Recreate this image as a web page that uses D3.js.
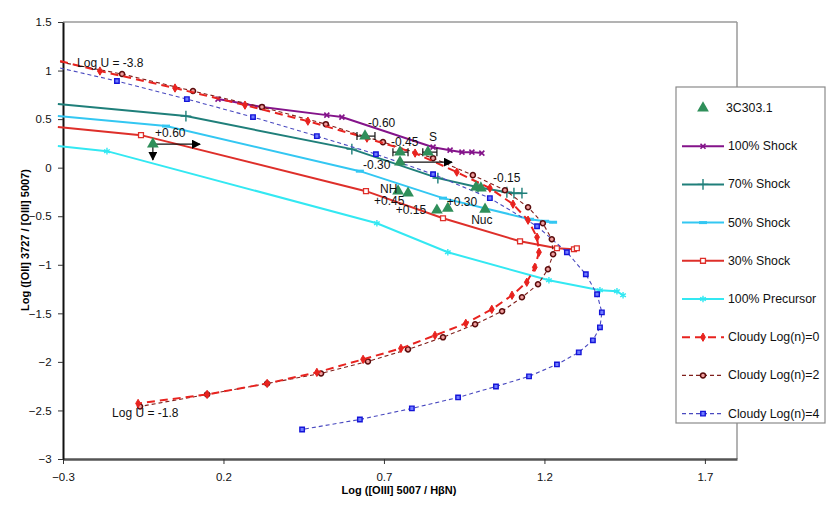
<!DOCTYPE html>
<html>
<head>
<meta charset="utf-8">
<script src="https://cdn.jsdelivr.net/npm/d3@7"></script>
<style>
  body { margin: 0; background: #fff; }
  text { font-family: "Liberation Sans", Arial, sans-serif; }
</style>
</head>
<body>
<div id="chart"></div>
<script>
// axis ticks
const xTicks = [-0.3, 0.2, 0.7, 1.2, 1.7];
const yTicks = [1.5, 1, 0.5, 0, -0.5, -1, -1.5, -2, -2.5, -3];

// 3C303.1 observations
const obsX = [-0.020, 0.641, 0.750, 0.750, 0.837, 0.987, 1.002, 0.744, 0.775, 0.865, 0.899, 1.015];
const obsY = [0.242, 0.325, 0.160, 0.057, 0.160, -0.201, -0.211, -0.242, -0.263, -0.438, -0.418, -0.428];

// horizontal error bars [x0, x1, y]
const errX0 = [0.616, 0.728, 0.821];
const errX1 = [0.672, 0.775, 0.865];
const errY  = [0.325, 0.160, 0.160];

// limit arrows
const arrowX0 = [-0.020, -0.020, 0.756];
const arrowY0 = [0.242, 0.242, 0.057];
const arrowX1 = [-0.020, 0.127, 0.912];
const arrowY1 = [0.080, 0.242, 0.057];

// point labels
const labelText = ["+0.60", "-0.60", "-0.45", "-0.30", "S", "-0.15", "NH", "+0.45", "+0.15", "+0.30", "Nuc", "Log U = -3.8", "Log U = -1.8"];
const labelX = [-0.013, 0.650, 0.722, 0.635, 0.853, 1.040, 0.688, 0.669, 0.737, 0.896, 1.005, -0.256, -0.147];
const labelY = [0.314, 0.418, 0.222, -0.015, 0.273, -0.149, -0.262, -0.386, -0.479, -0.397, -0.582, 1.036, -2.572];
const labelAnchor = ["start", "start", "start", "start", "middle", "start", "start", "start", "start", "start", "middle", "start", "start"];

// model grids
const shock100X = [0.183, 0.320, 0.522, 0.569, 0.853, 0.906, 0.943, 0.974, 1.005];
const shock100Y = [0.706, 0.624, 0.541, 0.521, 0.211, 0.180, 0.160, 0.160, 0.150];

const shock70X = [-0.316, 0.083, 0.600, 0.868, 0.993, 1.083, 1.105, 1.130];
const shock70Y = [0.655, 0.531, 0.191, -0.108, -0.201, -0.253, -0.263, -0.263];

const shock50X = [-0.316, 0.021, 0.625, 0.884, 1.155, 1.202, 1.227];
const shock50Y = [0.531, 0.428, -0.036, -0.314, -0.531, -0.552, -0.562];

const shock30X = [-0.316, -0.057, 0.644, 0.884, 1.124, 1.239, 1.292, 1.301];
const shock30Y = [0.418, 0.335, -0.242, -0.521, -0.758, -0.830, -0.840, -0.830];

const precursorX = [-0.316, -0.163, 0.678, 0.899, 1.214, 1.373, 1.426, 1.445];
const precursorY = [0.222, 0.170, -0.572, -0.871, -1.160, -1.263, -1.273, -1.314];

const cloudy0X = [-0.309, -0.185, 0.049, 0.267, 0.463, 0.647, 0.797, 0.927, 1.030, 1.102, 1.149, 1.177, 1.183,
                  1.170, 1.145, 1.099, 1.036, 0.955, 0.859, 0.753, 0.635, 0.491, 0.336, 0.149, -0.066];
const cloudy0Y = [1.098, 0.995, 0.820, 0.644, 0.479, 0.304, 0.150, -0.046, -0.211, -0.376, -0.541, -0.716, -0.871,
                  -1.026, -1.180, -1.314, -1.459, -1.603, -1.727, -1.861, -1.974, -2.108, -2.222, -2.335, -2.428];

const cloudy2X = [-0.309, -0.116, 0.105, 0.320, 0.519, 0.697, 0.853, 0.977, 1.077, 1.149, 1.195, 1.223, 1.227,
                  1.211, 1.180, 1.130, 1.068, 0.984, 0.884, 0.775, 0.650, 0.504, 0.336, 0.149, -0.060];
const cloudy2Y = [1.088, 0.964, 0.789, 0.624, 0.448, 0.263, 0.098, -0.077, -0.232, -0.407, -0.572, -0.737, -0.892,
                  -1.046, -1.201, -1.335, -1.479, -1.613, -1.747, -1.871, -1.995, -2.119, -2.222, -2.335, -2.459];

const cloudy4X = [-0.309, -0.132, 0.086, 0.292, 0.491, 0.675, 0.853, 1.030, 1.177, 1.270, 1.329, 1.364,
                  1.379, 1.373, 1.351, 1.307, 1.239, 1.152, 1.049, 0.931, 0.787, 0.625, 0.445];
const cloudy4Y = [1.026, 0.892, 0.706, 0.521, 0.325, 0.139, -0.067, -0.314, -0.603, -0.871, -1.098, -1.304,
                  -1.490, -1.644, -1.778, -1.902, -2.026, -2.149, -2.253, -2.366, -2.479, -2.593, -2.696];

const seriesNames = ["100% Shock", "70% Shock", "50% Shock", "30% Shock", "100% Precursor",
                     "Cloudy Log(n)=0", "Cloudy Log(n)=2", "Cloudy Log(n)=4"];

let width = 830, height = 515;
let margin = { top: 22, right: 93, bottom: 56, left: 63 };

let x = d3.scaleLinear().domain([-0.3, 1.8]).range([margin.left, width - margin.right]);
let y = d3.scaleLinear().domain([-3, 1.5]).range([height - margin.bottom, margin.top]);

let svg = d3.select("#chart").append("svg")
    .attr("width", width)
    .attr("height", height);

let defs = svg.append("defs");
defs.append("clipPath").attr("id", "plot-clip")
    .append("rect")
    .attr("x", margin.left - 6).attr("y", margin.top)
    .attr("width", width - margin.right - margin.left + 6)
    .attr("height", height - margin.bottom - margin.top);
defs.append("marker").attr("id", "arrow")
    .attr("viewBox", "0 0 10 10").attr("refX", 9).attr("refY", 5)
    .attr("markerWidth", 9).attr("markerHeight", 9)
    .attr("markerUnits", "userSpaceOnUse")
    .attr("orient", "auto")
    .append("path").attr("d", "M0,0L10,5L0,10Z").attr("fill", "#000");

const symTimes = d3.symbolTimes || d3.symbolX || d3.symbolCross;
const symPlus = d3.symbolPlus || d3.symbolCross;
const symAst = d3.symbolAsterisk || d3.symbolCross;

// style of each model series
const styles = [
    { xs: shock100X, ys: shock100Y, color: "#84138a", width: 2, dash: null, sym: symTimes, size: 18, fill: "none", stroke: "#84138a", sw: 1.6 },
    { xs: shock70X, ys: shock70Y, color: "#1f7f7a", width: 2, dash: null, sym: symPlus, size: 40, fill: "none", stroke: "#1f7f7a", sw: 1.4 },
    { xs: shock50X, ys: shock50Y, color: "#33c7f2", width: 2, dash: null, sym: "dash", size: 0, fill: "none", stroke: "#33c7f2", sw: 2.4 },
    { xs: shock30X, ys: shock30Y, color: "#de2f2a", width: 2, dash: null, sym: d3.symbolSquare, size: 24, fill: "#fff", stroke: "#de2f2a", sw: 1.3 },
    { xs: precursorX, ys: precursorY, color: "#33e8f2", width: 2, dash: null, sym: symAst, size: 30, fill: "none", stroke: "#33e8f2", sw: 1.4 },
    { xs: cloudy0X, ys: cloudy0Y, color: "#e8231f", width: 2, dash: "8,5", sym: d3.symbolDiamond, size: 20, fill: "#e8231f", stroke: "#e8231f", sw: 1 },
    { xs: cloudy2X, ys: cloudy2Y, color: "#80201c", width: 1.1, dash: "4,3", sym: d3.symbolCircle, size: 20, fill: "#f0a0a0", stroke: "#5a0c0c", sw: 1.5 },
    { xs: cloudy4X, ys: cloudy4Y, color: "#4a4ac0", width: 1.1, dash: "4,3", sym: d3.symbolSquare, size: 20, fill: "#6f7cff", stroke: "#1414d8", sw: 1.4 }
];

// plot frame
svg.append("line").attr("x1", margin.left).attr("x2", width - margin.right)
    .attr("y1", margin.top).attr("y2", margin.top).attr("stroke", "#9a9a9a").attr("stroke-width", 1.5);
svg.append("line").attr("x1", width - margin.right).attr("x2", width - margin.right)
    .attr("y1", margin.top).attr("y2", height - margin.bottom).attr("stroke", "#9a9a9a").attr("stroke-width", 1.5);

// axes
let xAxis = svg.append("g")
    .attr("transform", "translate(0," + (height - margin.bottom) + ")")
    .call(d3.axisBottom(x).tickValues(xTicks).tickSize(5).tickSizeOuter(0).tickFormat(d3.format("")));
let yAxis = svg.append("g")
    .attr("transform", "translate(" + margin.left + ",0)")
    .call(d3.axisLeft(y).tickValues(yTicks).tickSize(5).tickSizeOuter(0).tickFormat(d3.format("")));

xAxis.select(".domain").attr("stroke", "#555").attr("stroke-width", 2.5);
yAxis.select(".domain").attr("stroke", "#111").attr("stroke-width", 2);
[xAxis, yAxis].forEach(function (a) {
    a.selectAll(".tick line").attr("stroke", "#333");
    a.selectAll(".tick text").attr("font-size", 11.5).attr("fill", "#111")
        .style("font-family", "'Liberation Sans', Arial, sans-serif");
});
xAxis.selectAll(".tick text").attr("dy", "1.2em");
yAxis.selectAll(".tick text").attr("dx", "-0.3em");

// axis titles
svg.append("text")
    .attr("x", 399).attr("y", 494)
    .attr("text-anchor", "middle").attr("font-size", 11).attr("font-weight", "bold")
    .text("Log ([OIII] 5007 / H\u03B2N)");
svg.append("text")
    .attr("transform", "translate(29," + 240 + ") rotate(-90)")
    .attr("text-anchor", "middle").attr("font-size", 11).attr("font-weight", "bold")
    .text("Log ([OII] 3727 / [OIII] 5007)");

let plot = svg.append("g").attr("clip-path", "url(#plot-clip)");

function drawMarker(g, s, px, py, size) {
    if (s.sym === "dash") {
        g.append("line").attr("x1", px - 4).attr("x2", px + 4).attr("y1", py).attr("y2", py)
            .attr("stroke", s.stroke).attr("stroke-width", 3);
        return;
    }
    g.append("path")
        .attr("d", d3.symbol().type(s.sym).size(size || s.size)())
        .attr("transform", "translate(" + px + "," + py + ")")
        .attr("fill", s.fill).attr("stroke", s.stroke).attr("stroke-width", s.sw);
}

// model lines, drawn so that Cloudy sits on top of shocks as in the reference
let order = [4, 3, 2, 1, 0, 7, 6, 5];
order.forEach(function (i) {
    let s = styles[i];
    let pts = s.xs.map(function (d, k) { return [d, s.ys[k]]; });
    plot.append("path")
        .datum(pts)
        .attr("fill", "none")
        .attr("stroke", s.color)
        .attr("stroke-width", s.width)
        .attr("stroke-dasharray", s.dash)
        .attr("d", d3.line().x(function (d) { return x(d[0]); }).y(function (d) { return y(d[1]); }));
    let mg = plot.append("g");
    pts.forEach(function (d) {
        if (d[0] < -0.3) return;
        drawMarker(mg, s, x(d[0]), y(d[1]));
    });
});

// error bars
let eb = svg.append("g").attr("stroke", "#111").attr("stroke-width", 1.2);
errX0.forEach(function (d, i) {
    eb.append("line").attr("x1", x(d)).attr("x2", x(errX1[i])).attr("y1", y(errY[i])).attr("y2", y(errY[i]));
    [d, errX1[i]].forEach(function (e) {
        eb.append("line").attr("x1", x(e)).attr("x2", x(e)).attr("y1", y(errY[i]) - 4).attr("y2", y(errY[i]) + 4);
    });
});

// limit arrows
arrowX0.forEach(function (d, i) {
    svg.append("line")
        .attr("x1", x(d)).attr("y1", y(arrowY0[i]))
        .attr("x2", x(arrowX1[i])).attr("y2", y(arrowY1[i]))
        .attr("stroke", "#111").attr("stroke-width", 1.2)
        .attr("marker-end", "url(#arrow)");
});

// observed points
svg.append("g").selectAll("path")
    .data(obsX.map(function (d, i) { return [d, obsY[i]]; }))
    .enter().append("path")
    .attr("d", d3.symbol().type(d3.symbolTriangle).size(60)())
    .attr("transform", function (d) { return "translate(" + x(d[0]) + "," + y(d[1]) + ")"; })
    .attr("fill", "#2f8f5a");

// annotations
svg.append("g").selectAll("text")
    .data(labelText)
    .enter().append("text")
    .attr("x", function (d, i) { return x(labelX[i]); })
    .attr("y", function (d, i) { return y(labelY[i]); })
    .attr("text-anchor", function (d, i) { return labelAnchor[i]; })
    .attr("font-size", 12)
    .attr("fill", "#111")
    .text(function (d) { return d; });

// legend
let lg = svg.append("g");
lg.append("rect").attr("x", 676).attr("y", 87).attr("width", 149).attr("height", 336)
    .attr("fill", "#fff").attr("stroke", "#8a8a8a").attr("stroke-width", 1.2);
let rowY = function (k) { return 108 + k * 38.2; };
lg.append("path")
    .attr("d", d3.symbol().type(d3.symbolTriangle).size(60)())
    .attr("transform", "translate(703," + rowY(0) + ")")
    .attr("fill", "#2f8f5a");
lg.append("text").attr("x", 726).attr("y", rowY(0) + 4).attr("font-size", 12.3).attr("fill", "#111").text("3C303.1");
seriesNames.forEach(function (name, i) {
    let s = styles[i];
    let yy = rowY(i + 1);
    lg.append("line").attr("x1", 682).attr("x2", 724).attr("y1", yy).attr("y2", yy)
        .attr("stroke", s.color).attr("stroke-width", s.width).attr("stroke-dasharray", s.dash);
    drawMarker(lg, s, 703, yy);
    lg.append("text").attr("x", 728).attr("y", yy + 4).attr("font-size", 12.3).attr("fill", "#111").text(name);
});
</script>
</body>
</html>
